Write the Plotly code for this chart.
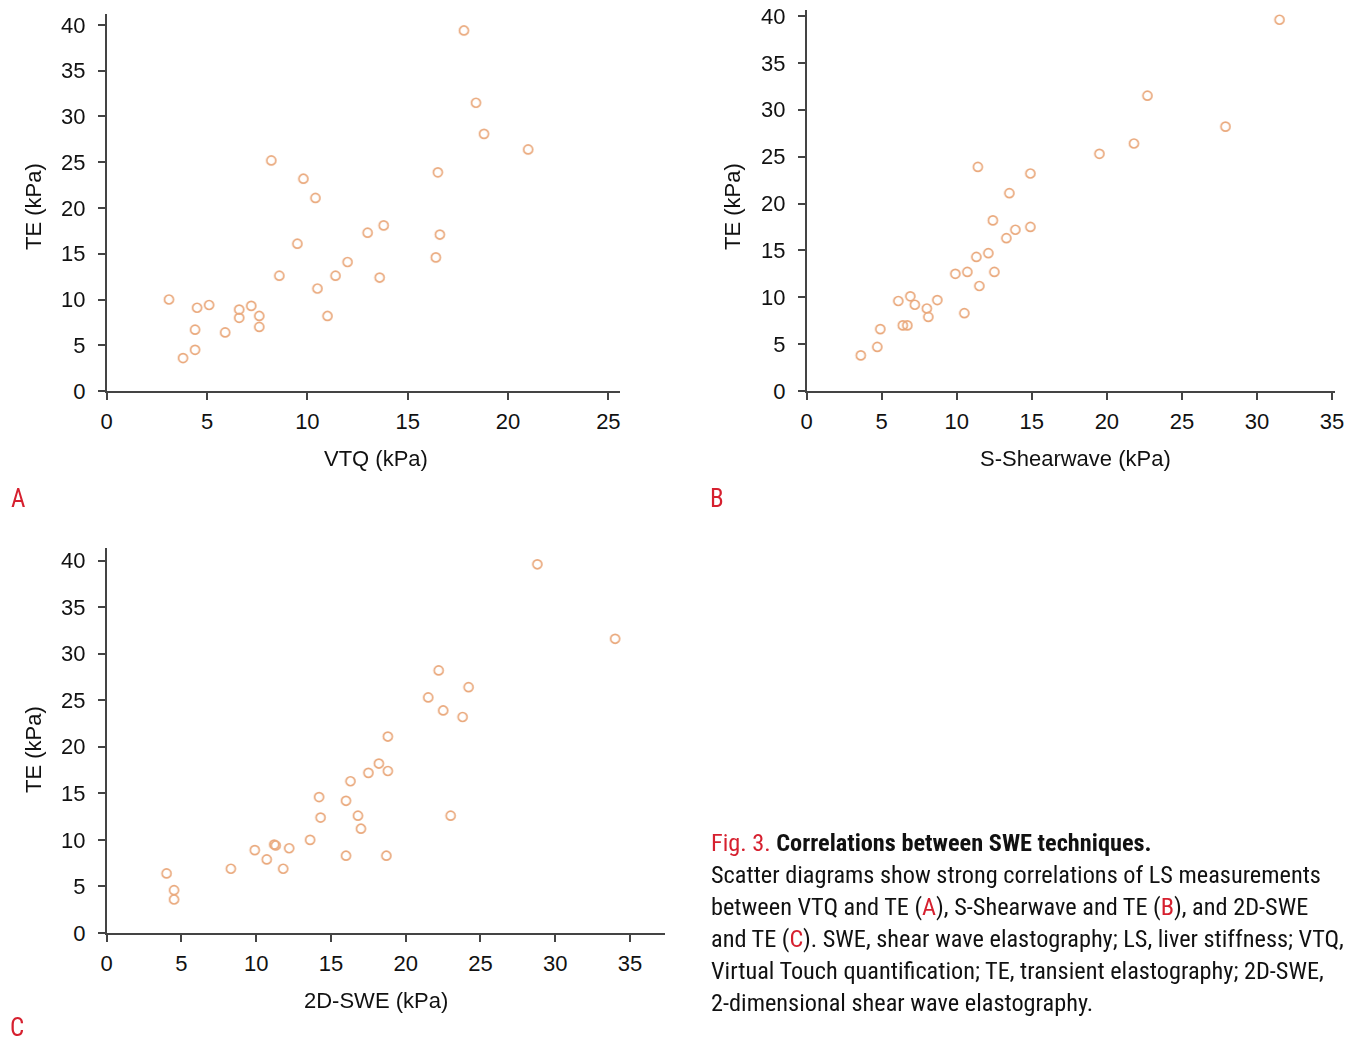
import plotly.graph_objects as go

# ---------------- data ----------------
vtq = [17.8, 18.4, 18.8, 21.0, 16.5, 16.6, 16.4, 8.2, 9.8, 10.4, 9.5, 13.0, 13.8, 12.0, 11.4,
       13.6, 8.6, 10.5, 11.0, 3.1, 4.5, 5.1, 6.6, 6.6, 7.2, 7.6, 7.6, 4.4, 5.9, 4.4, 3.8]
te_a = [39.4, 31.5, 28.1, 26.4, 23.9, 17.1, 14.6, 25.2, 23.2, 21.1, 16.1, 17.3, 18.1, 14.1, 12.6,
        12.4, 12.6, 11.2, 8.2, 10.0, 9.1, 9.4, 8.9, 8.0, 9.3, 8.2, 7.0, 6.7, 6.4, 4.5, 3.6]

sshear = [31.5, 22.7, 27.9, 21.8, 19.5, 11.4, 14.9, 13.5, 12.4, 13.9, 14.9, 13.3, 12.1, 11.3, 9.9,
          10.7, 12.5, 11.5, 10.5, 6.1, 6.9, 7.2, 8.7, 8.0, 8.1, 6.4, 6.7, 4.9, 4.7, 3.6]
te_b = [39.6, 31.5, 28.2, 26.4, 25.3, 23.9, 23.2, 21.1, 18.2, 17.2, 17.5, 16.3, 14.7, 14.3, 12.5,
        12.7, 12.7, 11.2, 8.3, 9.6, 10.1, 9.2, 9.7, 8.8, 7.9, 7.0, 7.0, 6.6, 4.7, 3.8]

swe2d = [28.8, 34.0, 22.2, 24.2, 21.5, 22.5, 23.8, 18.8, 18.2, 18.8, 17.5, 16.3, 14.2, 16.0, 14.3,
         16.8, 17.0, 23.0, 13.6, 11.2, 11.3, 12.2, 9.9, 10.7, 16.0, 18.7, 11.8, 8.3, 4.0, 4.5, 4.5]
te_c = [39.6, 31.6, 28.2, 26.4, 25.3, 23.9, 23.2, 21.1, 18.2, 17.4, 17.2, 16.3, 14.6, 14.2, 12.4,
        12.6, 11.2, 12.6, 10.0, 9.5, 9.4, 9.1, 8.9, 7.9, 8.3, 8.3, 6.9, 6.9, 6.4, 4.6, 3.6]

tick_a_x = [0, 5, 10, 15, 20, 25]
tick_bc_x = [0, 5, 10, 15, 20, 25, 30, 35]
tick_y = [0, 5, 10, 15, 20, 25, 30, 35, 40]

x_titles = ["VTQ (kPa)", "S-Shearwave (kPa)", "2D-SWE (kPa)"]
y_title = "TE (kPa)"
panel_letters = ["A", "B", "C"]

RED = "#d6202f"
caption_lines = [
    f"<span style='color:{RED}'>Fig. 3.</span> <b>Correlations between SWE techniques.</b>",
    "Scatter diagrams show strong correlations of LS measurements",
    f"between VTQ and TE (<span style='color:{RED}'>A</span>), S-Shearwave and TE (<span style='color:{RED}'>B</span>), and 2D-SWE",
    f"and TE (<span style='color:{RED}'>C</span>). SWE, shear wave elastography; LS, liver stiffness; VTQ,",
    "Virtual Touch quantification; TE, transient elastography; 2D-SWE,",
    "2-dimensional shear wave elastography.",
]

# ---------------- layout helpers ----------------
W, H = 1359, 1046
def fx(px):
    return px / W
def fy(py):
    return 1 - py / H

MCOL = "#e69a66"
MARK = dict(symbol="circle-open", size=9, color=MCOL, line=dict(width=1.7, color=MCOL))
TICKFONT = dict(family="Liberation Sans, Arial, sans-serif", size=22, color="#111")
TITLEFONT = dict(family="Liberation Sans, Arial, sans-serif", size=22, color="#111")
CAPFONT = "Liberation Sans Narrow, Roboto Condensed, Liberation Sans, sans-serif"

fig = go.Figure()
fig.add_trace(go.Scatter(x=vtq, y=te_a, mode="markers", marker=MARK, xaxis="x", yaxis="y", opacity=0.85))
fig.add_trace(go.Scatter(x=sshear, y=te_b, mode="markers", marker=MARK, xaxis="x2", yaxis="y2", opacity=0.85))
fig.add_trace(go.Scatter(x=swe2d, y=te_c, mode="markers", marker=MARK, xaxis="x3", yaxis="y3", opacity=0.85))

def xax(domain, rng, tickvals, anchor):
    return dict(domain=domain, range=rng, tickvals=tickvals, anchor=anchor, automargin=False,
                showline=True, linecolor="#444", linewidth=1.5, ticks="outside", ticklen=7,
                tickwidth=1.5, tickcolor="#444", showgrid=False, zeroline=False,
                tickfont=TICKFONT, ticklabelstandoff=3)

def yax(domain, rng, anchor):
    return dict(domain=domain, range=rng, tickvals=tick_y, anchor=anchor, automargin=False,
                showline=True, linecolor="#444", linewidth=1.5, ticks="outside", ticklen=7,
                tickwidth=1.5, tickcolor="#444", showgrid=False, zeroline=False,
                tickfont=TICKFONT, ticklabelstandoff=8)

annotations = []
def ann(text, x, y, size=22, angle=0, xanchor="center", font=None, color="#111"):
    annotations.append(dict(text=text, x=fx(x), y=fy(y), xref="paper", yref="paper",
                            showarrow=False, textangle=angle, xanchor=xanchor, yanchor="middle",
                            font=dict(family=font or TITLEFONT["family"], size=size, color=color)))

ann(x_titles[0], 376, 458)
ann(x_titles[1], 1075, 458)
ann(x_titles[2], 376, 1000)
ann(y_title, 33, 207, angle=-90)
ann(y_title, 732, 207, angle=-90)
ann(y_title, 33, 750, angle=-90)
ann(panel_letters[0], 18, 498, size=25, font=CAPFONT, color=RED)
ann(panel_letters[1], 717, 498, size=25, font=CAPFONT, color=RED)
ann(panel_letters[2], 17, 1027, size=25, font=CAPFONT, color=RED)
for i, line in enumerate(caption_lines):
    ann(line, 709, 842 + 32 * i, size=24.3, xanchor="left", font=CAPFONT, color="#111")

fig.update_layout(
    width=W, height=H, margin=dict(l=0, r=0, t=0, b=0),
    paper_bgcolor="white", plot_bgcolor="white", showlegend=False,
    xaxis=xax([fx(106.7), fx(620)], [0, 25.58], tick_a_x, "y"),
    yaxis=yax([fy(391), fy(14)], [0, 41.2], "x"),
    xaxis2=xax([fx(806.7), fx(1335)], [0, 35.2], tick_bc_x, "y2"),
    yaxis2=yax([fy(391), fy(10)], [0, 40.64], "x2"),
    xaxis3=xax([fx(106.7), fx(665)], [0, 37.34], tick_bc_x, "y3"),
    yaxis3=yax([fy(933), fy(548)], [0, 41.35], "x3"),
    annotations=annotations,
)

fig.write_html("out.html")
